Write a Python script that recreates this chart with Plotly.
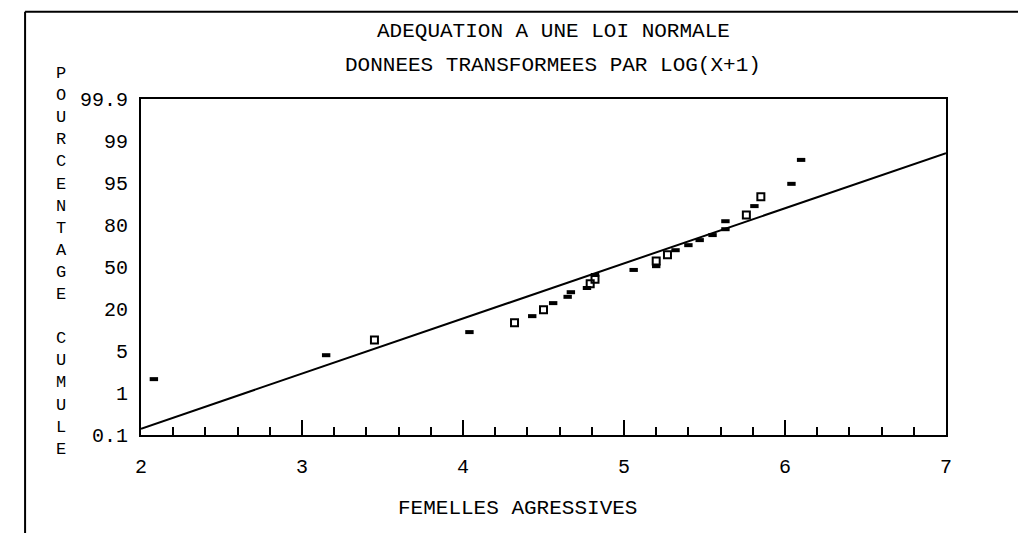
import plotly.graph_objects as go

# Y axis: cumulative percentage labels, placed at equal steps (tick index units)
y_tick_labels = ["0.1", "1", "5", "20", "50", "80", "95", "99", "99.9"]
y_tick_pos = list(range(len(y_tick_labels)))

x_tick_vals = [2, 3, 4, 5, 6, 7]

# Observed points (x = log(X+1), y = position on probability scale in tick units)
filled_x = [2.08, 3.15, 4.04, 4.43, 4.56, 4.65, 4.67, 4.77, 4.82, 5.06,
            5.20, 5.32, 5.40, 5.47, 5.55, 5.63, 5.63, 5.81, 6.04, 6.10]
filled_y = [1.33, 1.90, 2.45, 2.83, 3.14, 3.29, 3.40, 3.50, 3.81, 3.93,
            4.02, 4.40, 4.52, 4.64, 4.76, 4.90, 5.09, 5.45, 5.98, 6.55]

open_x = [3.45, 4.32, 4.50, 4.79, 4.82, 5.20, 5.27, 5.76, 5.85]
open_y = [2.26, 2.67, 2.98, 3.60, 3.71, 4.14, 4.29, 5.24, 5.67]

# Fitted normal line
fit_x = [2.0, 7.0]
fit_y = [0.15, 6.71]

FONT = "Liberation Mono"

fig = go.Figure()
fig.add_trace(go.Scatter(x=fit_x, y=fit_y, mode="lines",
                         line=dict(color="black", width=2), hoverinfo="skip"))
fig.add_trace(go.Scatter(x=filled_x, y=filled_y, mode="markers",
                         marker=dict(symbol="line-ew", size=6, color="black",
                                     line=dict(color="black", width=4))))
fig.add_trace(go.Scatter(x=open_x, y=open_y, mode="markers",
                         marker=dict(symbol="square-open", size=7, color="black",
                                     line=dict(color="black", width=2))))

fig.update_layout(
    width=1026, height=533,
    margin=dict(l=133, r=88, t=91, b=106),
    paper_bgcolor="white", plot_bgcolor="white",
    showlegend=False,
    font=dict(family=FONT, size=20, color="black"),
    xaxis=dict(range=[2, 7], tickvals=x_tick_vals, ticks="inside", ticklen=15,
               tickwidth=2, tickcolor="black",
               minor=dict(dtick=0.2, ticks="inside", ticklen=8, tickwidth=1.5,
                          tickcolor="black"),
               showline=True, linecolor="black", linewidth=2, mirror=True,
               showgrid=False, zeroline=False, ticklabelstandoff=12,
               tickfont=dict(family=FONT, size=20)),
    yaxis=dict(range=[0, 8], tickvals=y_tick_pos, ticktext=y_tick_labels,
               ticks="", showline=True, linecolor="black", linewidth=2,
               mirror=True, showgrid=False, zeroline=False,
               ticklabelstandoff=7, tickfont=dict(family=FONT, size=20)),
)

annotations = [
    dict(text="ADEQUATION A UNE LOI NORMALE", x=0.512, y=1.2),
    dict(text="DONNEES TRANSFORMEES PAR LOG(X+1)", x=0.512, y=1.1),
    dict(text="FEMELLES AGRESSIVES", x=0.468, y=-0.22),
]
for a in annotations:
    fig.add_annotation(xref="paper", yref="paper", showarrow=False,
                       xanchor="center", yanchor="middle",
                       font=dict(family=FONT, size=21, color="black"), **a)

ytitle = "<br>".join(list("POURCENTAGE") + [" "] + list("CUMULE"))
fig.add_annotation(xref="paper", yref="paper", x=-0.099, y=0.515,
                   text=ytitle, showarrow=False, xanchor="center",
                   yanchor="middle", align="center",
                   font=dict(family=FONT, size=17, color="black"))

# Outer page frame (top and left edges)
fig.add_shape(type="line", xref="paper", yref="paper", x0=-0.144, x1=1.12,
              y0=1.26, y1=1.26, line=dict(color="black", width=2))
fig.add_shape(type="line", xref="paper", yref="paper", x0=-0.144, x1=-0.144,
              y0=1.26, y1=-0.32, line=dict(color="black", width=2))

fig.write_html("out.html")
